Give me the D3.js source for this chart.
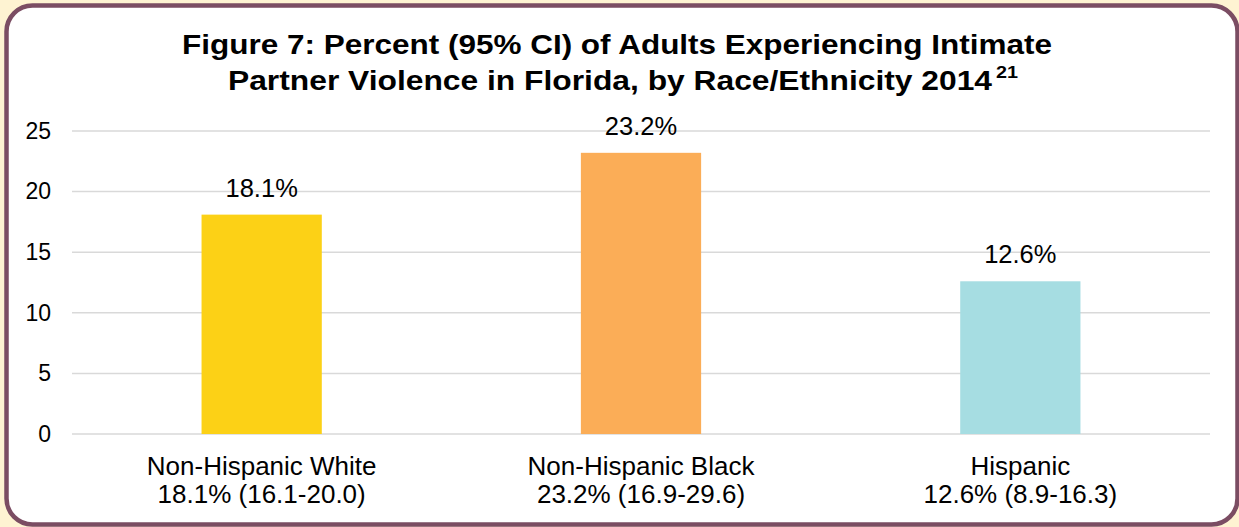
<!DOCTYPE html>
<html>
<head>
<meta charset="utf-8">
<script src="https://cdn.jsdelivr.net/npm/d3@7"></script>
<style>
html,body{margin:0;padding:0;background:#FEF3D2;}
svg{display:block;font-family:Arial,"Liberation Sans",sans-serif;}
</style>
</head>
<body>
<svg id="chart" width="1239" height="527"></svg>
<script>
const categories = ["Non-Hispanic White", "Non-Hispanic Black", "Hispanic"];
const ciLabels = ["18.1% (16.1-20.0)", "23.2% (16.9-29.6)", "12.6% (8.9-16.3)"];
const values = [18.1, 23.2, 12.6];
const colors = ["#FCD116", "#FBAD57", "#A6DDE2"];
const yTicks = [0, 5, 10, 15, 20, 25];
const titleLine1 = "Figure 7: Percent (95% CI) of Adults Experiencing Intimate";
const titleLine2 = "Partner Violence in Florida, by Race/Ethnicity 2014";
const titleSup = "21";

const svg = d3.select("#chart");
const W = 1239, H = 527;

svg.append("rect")
  .attr("x", 0).attr("y", 0).attr("width", W).attr("height", H)
  .attr("fill", "#FEF3D2");
svg.append("rect")
  .attr("x", 6.5).attr("y", 5.5).attr("width", 1231).attr("height", 519)
  .attr("rx", 26).attr("ry", 26)
  .attr("fill", "#ffffff").attr("stroke", "#7B4D63").attr("stroke-width", 4.5);

const x = d3.scaleBand().domain(categories).range([72, 1210]).paddingInner(0.683).paddingOuter(0.3415);
const y = d3.scaleLinear().domain([0, 25]).range([434, 131]);

// gridlines
svg.append("g").selectAll("line").data(yTicks).join("line")
  .attr("x1", 72).attr("x2", 1210)
  .attr("y1", d => y(d)).attr("y2", d => y(d))
  .attr("stroke", "#D9D9D9").attr("stroke-width", 1.5);

// y axis labels
const yAxis = svg.append("g").attr("transform", "translate(62,0)")
  .call(d3.axisLeft(y).tickValues(yTicks).tickSize(0).tickPadding(11));
yAxis.select(".domain").remove();
yAxis.selectAll("text").attr("font-size", "23px").attr("fill", "#000")
  .attr("font-family", "Arial, 'Liberation Sans', sans-serif");

// bars
svg.append("g").selectAll("rect").data(values).join("rect")
  .attr("x", (d, i) => x(categories[i]))
  .attr("width", x.bandwidth())
  .attr("y", d => y(d))
  .attr("height", d => y(0) - y(d))
  .attr("fill", (d, i) => colors[i]);

// value labels
svg.append("g").selectAll("text").data(values).join("text")
  .attr("x", (d, i) => x(categories[i]) + x.bandwidth() / 2)
  .attr("y", d => y(d) - 18)
  .attr("text-anchor", "middle")
  .attr("font-size", "25.5px").attr("fill", "#000")
  .text(d => d.toFixed(1) + "%");

// x labels
const xl = svg.append("g").selectAll("text").data(categories).join("text")
  .attr("text-anchor", "middle").attr("font-size", "26px").attr("fill", "#000");
xl.append("tspan")
  .attr("x", d => x(d) + x.bandwidth() / 2).attr("y", 475)
  .text(d => d);
xl.append("tspan")
  .attr("x", d => x(d) + x.bandwidth() / 2).attr("y", 503)
  .text((d, i) => ciLabels[i]);

// title
const t = svg.append("g").attr("font-weight", "bold").attr("fill", "#000");
t.append("text").attr("x", 182).attr("y", 54).attr("font-size", "27px")
  .attr("textLength", 870).attr("lengthAdjust", "spacingAndGlyphs").text(titleLine1);
t.append("text").attr("x", 228).attr("y", 90).attr("font-size", "27px")
  .attr("textLength", 764).attr("lengthAdjust", "spacingAndGlyphs").text(titleLine2);
t.append("text").attr("x", 996).attr("y", 78).attr("font-size", "17px")
  .attr("textLength", 22).attr("lengthAdjust", "spacingAndGlyphs").text(titleSup);
</script>
</body>
</html>
